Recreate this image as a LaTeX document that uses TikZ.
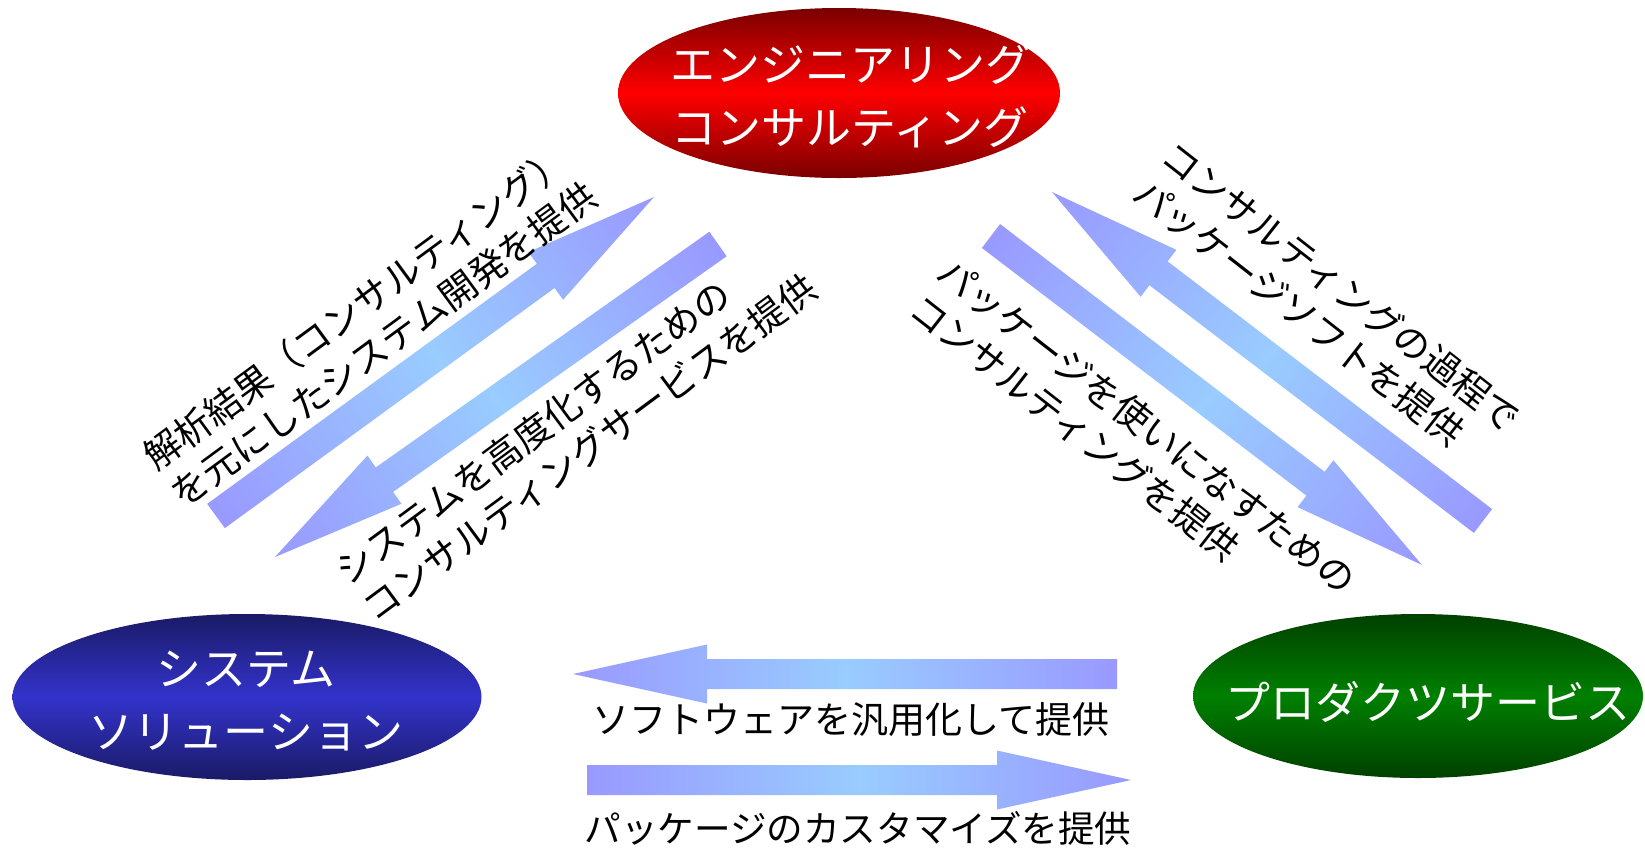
\documentclass[tikz,border=0pt]{standalone}
\usepackage{fontspec}
\setmainfont{Noto Sans CJK JP}
\usepackage{tikz}
\usetikzlibrary{calc,shapes.geometric}

\definecolor{arrowend}{HTML}{9999FF}
\definecolor{arrowmid}{HTML}{99CCFF}
\definecolor{engdark}{HTML}{7A0000}
\definecolor{englight}{HTML}{FF0000}
\definecolor{sysdark}{HTML}{1A1A66}
\definecolor{syslight}{HTML}{3333CC}
\definecolor{proddark}{HTML}{004000}
\definecolor{prodlight}{HTML}{008000}

% block arrow from coordinate #1 to coordinate #2
\newcommand\flowarrow[2]{%
  \path let \p1=(#1), \p2=(#2) in \pgfextra{%
    \pgfmathsetmacro\faang{atan2(\y2-\y1,\x2-\x1)}\xdef\faang{\faang}%
    \pgfmathsetmacro\falen{veclen(\x2-\x1,\y2-\y1)}\xdef\falen{\falen}%
    \xdef\fax{\x1}\xdef\fay{\y1}};
  \begin{scope}[transform canvas={shift={(\fax,\fay)}, rotate=\faang}]
    \shade[left color=arrowend, right color=arrowend, middle color=arrowmid]
      (0pt,-7.5pt) -- ({\falen pt-67pt},-7.5pt) -- ({\falen pt-67pt},-14.75pt)
      -- (\falen pt,0pt) -- ({\falen pt-67pt},14.75pt) -- ({\falen pt-67pt},7.5pt)
      -- (0pt,7.5pt) -- cycle;
  \end{scope}}

\begin{document}
\begin{tikzpicture}[x=0.5pt, y=-0.5pt,
    bubble/.style={ellipse, inner sep=0pt},
    bubbletext/.style={text=white, align=center, inner sep=0pt,
      font=\fontsize{22.5}{31.5}\selectfont},
    flowtext/.style={align=left, inner sep=0pt,
      font=\fontsize{18.5}{23}\selectfont}]
    \useasboundingbox (0,0) rectangle (1645,848);

    % the three fields
    \node[bubble, minimum width=221pt, minimum height=85pt,
      top color=engdark, bottom color=engdark, middle color=englight] (eng) at (839,93) {};
    \node[bubble, minimum width=234.5pt, minimum height=83pt,
      top color=sysdark, bottom color=sysdark, middle color=syslight] (sys) at (247,697) {};
    \node[bubble, minimum width=225pt, minimum height=82pt,
      top color=proddark, bottom color=proddark, middle color=prodlight] (prod) at (1418,696) {};
    \node[bubbletext] (engtxt) at (850,96) {エンジニアリング\\コンサルティング};
    \node[bubbletext] (systxt) at (246,701) {システム\\ソリューション};
    \node[bubbletext] (prodtxt) at (1428,702) {プロダクツサービス};

    % arrow ends
    \coordinate (a1) at (216,516);  \coordinate (b1) at (654,197);
    \coordinate (a2) at (718,244);  \coordinate (b2) at (275,557);
    \coordinate (a3) at (1483,521); \coordinate (b3) at (1052,192);
    \coordinate (a4) at (991,236);  \coordinate (b4) at (1422,565);
    \coordinate (a5) at (1117,674); \coordinate (b5) at (573,674);
    \coordinate (a6) at (587,780);  \coordinate (b6) at (1131,780);
    \flowarrow{a1}{b1}
    \flowarrow{a2}{b2}
    \flowarrow{a3}{b3}
    \flowarrow{a4}{b4}
    \flowarrow{a5}{b5}
    \flowarrow{a6}{b6}

    % labels
    \node[flowtext, rotate=36.3] (l1) at (370,326)
      {解析結果（コンサルティング）\\を元にしたシステム開発を提供};
    \node[flowtext, rotate=36.5] (l2) at (576,429)
      {システムを高度化するための\\コンサルティングサービスを提供};
    \node[flowtext, rotate=-38] (l3) at (1327,305)
      {コンサルティングの過程で\\パッケージソフトを提供};
    \node[flowtext, rotate=-38] (l4) at (1133,444)
      {パッケージを使いになすための\\コンサルティングを提供};
    \node[font=\fontsize{18.5}{22}\selectfont, inner sep=0pt] (l5) at (851,720)
      {ソフトウェアを汎用化して提供};
    \node[font=\fontsize{18.3}{22}\selectfont, inner sep=0pt] (l6) at (858,828)
      {パッケージのカスタマイズを提供};
\end{tikzpicture}
\end{document}
